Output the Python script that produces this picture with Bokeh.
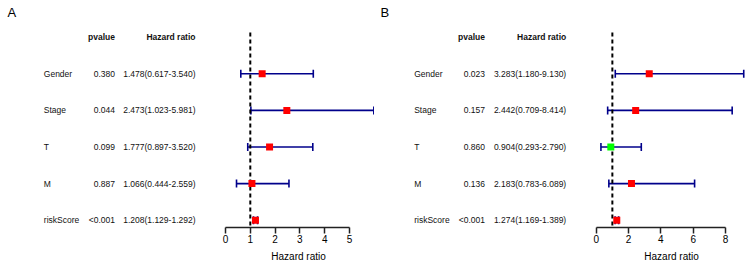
from bokeh.plotting import figure
from bokeh.models import Range1d, Whisker, TeeHead, ColumnDataSource, Title, FixedTicker
from bokeh.layouts import row
from bokeh.embed import file_html
from bokeh.resources import INLINE
from bokeh.core.properties import value

# ---------------- data ----------------
variables = ["Gender", "Stage", "T", "M", "riskScore"]

a_hr = [1.478, 2.473, 1.777, 1.066, 1.208]
a_low = [0.617, 1.023, 0.897, 0.444, 1.129]
a_high = [3.540, 5.981, 3.520, 2.559, 1.292]
a_pvalue = ["0.380", "0.044", "0.099", "0.887", "<0.001"]
a_ticks = [0, 1, 2, 3, 4, 5]

b_hr = [3.283, 2.442, 0.904, 2.183, 1.274]
b_low = [1.180, 0.709, 0.293, 0.783, 1.169]
b_high = [9.130, 8.414, 2.790, 6.089, 1.389]
b_pvalue = ["0.023", "0.157", "0.860", "0.136", "<0.001"]
b_ticks = [0, 2, 4, 6, 8]

# ---------------- layout constants ----------------
FIG_H = 269
FRAME_H = 227
ROW0 = 73.3      # pixel (from top of figure) of first row
ROW_STEP = 36.6  # pixel distance between rows
FONT = "Liberation Sans"
BLUE = "#00008B"
TITLE_HALF_W = 27.2  # half width of the 10px "Hazard ratio" text


def ypix(px):
    return (px - ROW0) / ROW_STEP


def panel(letter, hr, low, high, pv, ticks, width, zero_px, unit,
          name_x, p_x, hr_x, letter_x, title_x):
    y_bottom = ypix(FRAME_H)
    y_top = ypix(0)
    p = figure(width=width, height=FIG_H,
               x_range=Range1d(-zero_px / unit, (width - zero_px) / unit),
               y_range=Range1d(y_bottom, y_top),
               output_backend="svg", toolbar_location=None,
               y_axis_location=None,
               min_border_left=0, min_border_right=0, min_border_top=0,
               min_border_bottom=FIG_H - FRAME_H,
               outline_line_color=None, background_fill_color="white",
               border_fill_color="white")
    p.xgrid.visible = False
    p.ygrid.visible = False
    p.extra_x_ranges = {"px": Range1d(0, width)}

    ys = list(range(len(variables)))
    hr_txt = ["%.3f(%.3f-%.3f)" % (h, l, u) for h, l, u in zip(hr, low, high)]
    colors = ["#FF0000" if h > 1 else "#00FF00" for h in hr]
    src = ColumnDataSource(dict(y=ys, name=variables, pv=pv, hrt=hr_txt,
                                hr=hr, low=low, high=high, color=colors))

    common = dict(text_font=value(FONT), text_font_size="8.5px",
                  text_color="#111111", text_baseline="middle", x_range_name="px")
    p.text(x=name_x, y="y", text="name", text_align="left", source=src, **common)
    p.text(x=p_x, y="y", text="pv", text_align="right", source=src, **common)
    p.text(x=hr_x, y="y", text="hrt", text_align="right", source=src, **common)
    p.text(x=[p_x, hr_x], y=[-1, -1], text=["pvalue", "Hazard ratio"],
           text_align="right", text_font_style="bold", **common)

    # panel letter
    p.text(x=[letter_x], y=[ypix(11.5)], text=[letter], text_align="left",
           text_baseline="middle", text_font=value(FONT), text_font_size="13px",
           text_color="black", x_range_name="px")

    # reference line at HR = 1
    p.segment(x0=[1], x1=[1], y0=[ypix(32)], y1=[y_bottom],
              line_color="black", line_width=2, line_dash="4 3")

    # CI whiskers
    w = Whisker(source=src, base="y", lower="low", upper="high", dimension="width",
                line_color=BLUE, line_width=1.6,
                lower_head=TeeHead(size=8, line_color=BLUE, line_width=1.6),
                upper_head=TeeHead(size=8, line_color=BLUE, line_width=1.6))
    p.add_layout(w)

    p.scatter(x="hr", y="y", marker="square", size=7, fill_color="color",
              line_color=None, source=src)

    ax = p.xaxis[0]
    ax.ticker = FixedTicker(ticks=ticks)
    ax.bounds = (ticks[0], ticks[-1])
    ax.major_tick_out = 6
    ax.major_tick_in = 0
    ax.minor_tick_line_color = None
    ax.axis_line_width = 1.5
    ax.axis_line_color = "#222222"
    ax.major_tick_line_width = 1.5
    ax.major_tick_line_color = "#222222"
    ax.major_label_text_font = FONT
    ax.major_label_text_font_size = "10px"
    ax.major_label_text_color = "black"
    ax.major_label_standoff = 1

    p.add_layout(Title(text="Hazard ratio", align="left",
                       offset=title_x - TITLE_HALF_W, standoff=6,
                       text_font=FONT, text_font_size="10px",
                       text_font_style="normal", text_color="black"), "below")
    return p


pa = panel("A", a_hr, a_low, a_high, a_pvalue, a_ticks, 374, 225.0, 24.8,
           43.3, 114.5, 195.0, 7, 298)
pb = panel("B", b_hr, b_low, b_high, b_pvalue, b_ticks, 375, 221.7, 16.16,
           39.7, 110.5, 191.7, 6, 297)

layout = row(pa, pb)
open("out.html", "w").write(file_html(layout, INLINE))
